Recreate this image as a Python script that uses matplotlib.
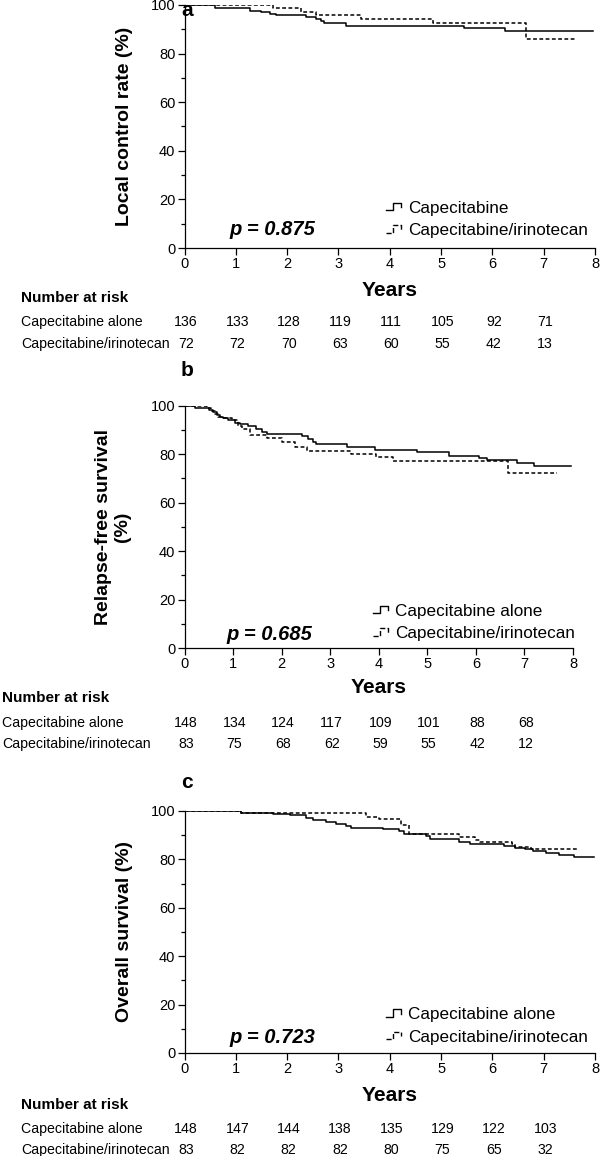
import numpy as np
import matplotlib
matplotlib.use("Agg")
import matplotlib.pyplot as plt
import matplotlib.transforms as mtransforms
from matplotlib.lines import Line2D
from matplotlib.legend_handler import HandlerBase

plt.rcParams['font.family'] = ['Liberation Sans', 'DejaVu Sans']

# ---- data ----
years_ticks = [0, 1, 2, 3, 4, 5, 6, 7, 8]
risk_times = [0, 1, 2, 3, 4, 5, 6, 7]

# panel a: local control
a_cap_t = [0, 0.59, 1.27, 1.50, 1.66, 1.79, 2.37, 2.56, 2.66, 2.72, 3.15, 5.44, 6.25]
a_cap_s = [100, 98.6, 97.7, 97.1, 96.4, 95.7, 95.0, 94.3, 93.4, 92.5, 91.5, 90.4, 89.5]
a_cap_end = 7.96
a_iri_t = [0, 1.72, 2.27, 2.56, 3.44, 4.85, 6.66]
a_iri_s = [100, 98.6, 97.2, 95.9, 94.2, 92.5, 85.9]
a_iri_end = 7.61
a_risk_cap = [136, 133, 128, 119, 111, 105, 92, 71]
a_risk_iri = [72, 72, 70, 63, 60, 55, 42, 13]

# panel b: relapse-free survival
b_cap_t = [0, 0.22, 0.50, 0.58, 0.66, 0.73, 0.80, 0.90, 1.05, 1.15, 1.30, 1.48, 1.60, 1.70,
           2.42, 2.55, 2.65, 2.70, 3.35, 3.93, 4.79, 5.45, 6.06, 6.23, 6.85, 7.19]
b_cap_s = [100, 99.0, 98.3, 97.3, 96.3, 95.5, 94.8, 94.0, 93.0, 92.3, 91.5, 90.3, 89.3, 88.3,
           87.3, 86.3, 85.0, 84.0, 83.0, 81.8, 81.0, 79.3, 78.4, 77.5, 76.3, 75.2]
b_cap_end = 7.95
b_iri_t = [0, 0.46, 0.55, 0.62, 0.70, 0.80, 0.98, 1.11, 1.18, 1.35, 1.70, 2.0, 2.28, 2.52,
           3.42, 3.95, 4.30, 6.67]
b_iri_s = [100, 99.0, 97.8, 96.5, 95.5, 95.0, 94.0, 91.6, 90.2, 88.0, 86.5, 85.2, 82.8, 81.5,
           79.9, 78.9, 77.2, 72.4]
b_iri_end = 7.67
b_risk_cap = [148, 134, 124, 117, 109, 101, 88, 68]
b_risk_iri = [83, 75, 68, 62, 59, 55, 42, 12]

# panel c: overall survival
c_cap_t = [0, 1.11, 1.72, 2.05, 2.37, 2.50, 2.76, 2.95, 3.15, 3.24, 3.86, 4.18, 4.28, 4.70,
           4.79, 5.34, 5.57, 6.22, 6.44, 6.64, 6.80, 7.05, 7.30, 7.60]
c_cap_s = [100, 99.3, 98.9, 98.4, 97.3, 96.4, 95.5, 94.8, 94.0, 93.1, 92.4, 91.6, 90.6, 89.7,
           88.6, 87.2, 86.5, 85.4, 84.8, 84.1, 83.4, 82.8, 82.0, 80.8]
c_cap_end = 7.98
c_iri_t = [0, 1.11, 3.53, 3.79, 4.21, 4.37, 5.34, 5.67, 5.76, 6.38, 6.44, 6.76]
c_iri_s = [100, 99.1, 97.6, 96.5, 94.3, 90.6, 89.2, 88.2, 87.0, 86.2, 85.1, 84.5]
c_iri_end = 7.67
c_risk_cap = [148, 147, 144, 138, 135, 129, 122, 103]
c_risk_iri = [83, 82, 82, 82, 80, 75, 65, 32]

W, H = 600, 1156


class StepHandler(HandlerBase):
    # little km-style step glyph used in the legend
    def create_artists(self, legend, orig_handle, xdescent, ydescent,
                       width, height, fontsize, trans):
        xs = np.array([0, 0.45, 0.45, 1.0, 1.0]) * width - xdescent
        ys = np.array([0.2, 0.2, 0.85, 0.85, 0.45]) * height - ydescent
        ln = Line2D(xs, ys, color='black', linestyle=orig_handle.get_linestyle(),
                    linewidth=1.0, transform=trans)
        return [ln]


fig = plt.figure(figsize=(W / 100, H / 100), dpi=100)


def px_box(left, right, top, bottom):
    return [left / W, 1 - bottom / H, (right - left) / W, (bottom - top) / H]


def km(ax, t, s, end, **kw):
    tt = list(t) + [end]
    ss = list(s) + [s[-1]]
    return ax.step(tt, ss, where='post', color='black', **kw)[0]


panels = [
    dict(box=px_box(184.5, 595, 5, 248), letter='a', ylab='Local control rate (%)', ylx=-0.147,
         cap=(a_cap_t, a_cap_s, a_cap_end), iri=(a_iri_t, a_iri_s, a_iri_end),
         p='p = 0.875', p_xy=(1.71, 7.6), leg_lab='Capecitabine', leg_xy=(0.49, 0.117),
         risk=(a_risk_cap, a_risk_iri), risk_y=(298, 322, 344), lab_x=21, years_y=-0.173,
         letter_y=11),
    dict(box=px_box(184.5, 573, 405.7, 648), letter='b', ylab='Relapse-free survival\n(%)', ylx=-0.184,
         cap=(b_cap_t, b_cap_s, b_cap_end), iri=(b_iri_t, b_iri_s, b_iri_end),
         p='p = 0.685', p_xy=(1.75, 5.4), leg_lab='Capecitabine alone', leg_xy=(0.485, 0.105),
         risk=(b_risk_cap, b_risk_iri), risk_y=(698, 723, 744), lab_x=2, years_y=-0.165,
         letter_y=371),
    dict(box=px_box(184.5, 595, 811, 1053), letter='c', ylab='Overall survival (%)', ylx=-0.147,
         cap=(c_cap_t, c_cap_s, c_cap_end), iri=(c_iri_t, c_iri_s, c_iri_end),
         p='p = 0.723', p_xy=(1.71, 6.2), leg_lab='Capecitabine alone', leg_xy=(0.49, 0.112),
         risk=(c_risk_cap, c_risk_iri), risk_y=(1105, 1129, 1150), lab_x=21, years_y=-0.174,
         letter_y=783),
]

for pn in panels:
    ax = fig.add_axes(pn['box'])
    l1 = km(ax, *pn['cap'], lw=1.1, linestyle='-')
    l2 = km(ax, *pn['iri'], lw=1.1, linestyle=(0, (2.5, 1.6)))

    ax.set_xlim(0, 8)
    ax.set_ylim(0, 100)
    ax.set_xticks(years_ticks)
    ax.set_yticks([0, 20, 40, 60, 80, 100])
    ax.set_yticks([10, 30, 50, 70, 90], minor=True)
    for side in ['top', 'right']:
        ax.spines[side].set_visible(False)
    for side in ['left', 'bottom']:
        ax.spines[side].set_linewidth(0.9)
    ax.tick_params(axis='both', which='major', length=5, width=0.9, labelsize=10.5, pad=1.5)
    ax.tick_params(axis='y', which='minor', length=3, width=0.9)
    ax.patch.set_alpha(0)

    ax.set_ylabel(pn['ylab'], fontsize=14, fontweight='bold', va='center', ha='center',
                  linespacing=1.1)
    ax.yaxis.set_label_coords(pn['ylx'], 0.5)
    ax.set_xlabel('Years', fontsize=15, fontweight='bold', va='center')
    ax.xaxis.set_label_coords(0.5, pn['years_y'])

    ax.text(pn['p_xy'][0], pn['p_xy'][1], pn['p'], fontsize=14.5, fontweight='bold',
            fontstyle='italic', ha='center', va='center')

    ax.legend([l1, l2], [pn['leg_lab'], 'Capecitabine/irinotecan'],
              handler_map={Line2D: StepHandler()}, loc='center left',
              bbox_to_anchor=pn['leg_xy'], frameon=False, fontsize=12.3,
              handlelength=0.9, handletextpad=0.4, labelspacing=0.45,
              borderpad=0, borderaxespad=0)

    fig.text(187 / W, 1 - pn['letter_y'] / H, pn['letter'], fontsize=15, fontweight='bold',
             ha='center', va='center')

    # number at risk table
    tr = mtransforms.blended_transform_factory(ax.transData, fig.transFigure)
    y0, y1, y2 = [1 - v / H for v in pn['risk_y']]
    fig.text(pn['lab_x'] / W, y0, 'Number at risk', fontsize=11, fontweight='bold', va='center')
    fig.text(pn['lab_x'] / W, y1, 'Capecitabine alone', fontsize=10.2, va='center')
    fig.text(pn['lab_x'] / W, y2, 'Capecitabine/irinotecan', fontsize=10.2, va='center')
    cap_n, iri_n = pn['risk']
    for t, n1, n2 in zip(risk_times, cap_n, iri_n):
        ax.text(t + 0.03, y1, str(n1), transform=tr, fontsize=10.2, ha='center', va='center')
        ax.text(t + 0.03, y2, str(n2), transform=tr, fontsize=10.2, ha='center', va='center')

fig.savefig('out.png', dpi=100)
